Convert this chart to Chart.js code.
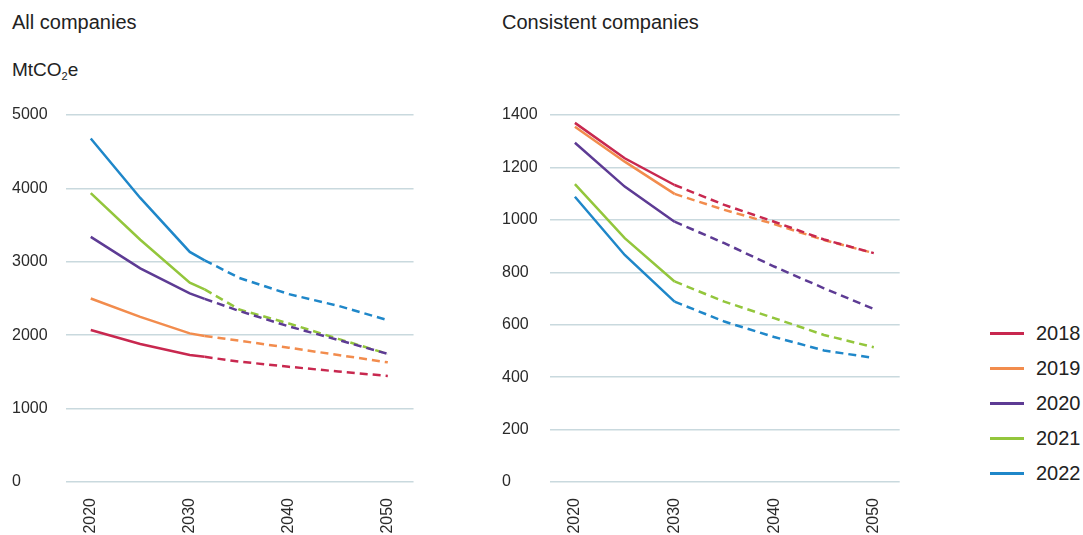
<!DOCTYPE html>
<html>
<head>
<meta charset="utf-8">
<script src="https://cdn.jsdelivr.net/npm/chart.js@4/dist/chart.umd.min.js"></script>
<style>
  html, body { margin: 0; padding: 0; background: #fff; }
  body { width: 1083px; height: 535px; position: relative; overflow: hidden;
         font-family: "Liberation Sans", Arial, sans-serif; color: #222; }
  .title { position: absolute; font-size: 20px; top: 11px; }
  .unit { position: absolute; left: 12px; top: 59px; font-size: 19px; }
  .unit sub { font-size: 11px; vertical-align: -4px; }
  .wrap { position: absolute; }
  #legend { position: absolute; left: 990px; top: 316px; }
  .item { height: 35px; display: flex; align-items: center; font-size: 20px; }
  .swatch { width: 34px; height: 3px; margin-right: 12px; }
</style>
</head>
<body>
<div class="title" style="left:12px">All companies</div>
<div class="unit">MtCO<sub>2</sub>e</div>
<div class="title" style="left:502px">Consistent companies</div>
<div class="wrap" style="left:12px; top:105px; width:411px; height:430px"><canvas id="allChart"></canvas></div>
<div class="wrap" style="left:502px; top:105px; width:407px; height:430px"><canvas id="consChart"></canvas></div>
<div id="legend"></div>
<script>
// Reporting years (one line per year of disclosure)
const seriesNames = ['2018', '2019', '2020', '2021', '2022'];
const seriesColors = ['#c8284f', '#f28c4d', '#5d3b94', '#93c63c', '#1f87c9'];

// Axis ticks
const xTickYears = [2020, 2030, 2040, 2050];
const allYTicks = [0, 1000, 2000, 3000, 4000, 5000];
const consYTicks = [0, 200, 400, 600, 800, 1000, 1200, 1400];

// All companies, MtCO2e (reported up to the first break, projected after it)
const allYears = [2020, 2025, 2030, 2031.5, 2035, 2040, 2045, 2050];
const allSolidEnd = 2031.5;
const all2018 = [2070, 1880, 1730, 1705, 1640, 1570, 1505, 1445];
const all2019 = [2500, 2250, 2025, 1990, 1925, 1830, 1730, 1630];
const all2020 = [3340, 2910, 2570, 2495, 2330, 2120, 1935, 1745];
const all2021 = [3935, 3300, 2715, 2625, 2350, 2160, 1950, 1745];
const all2022 = [4680, 3870, 3135, 3020, 2780, 2560, 2400, 2205];

// Consistent companies, MtCO2e
const consYears = [2020, 2025, 2030, 2035, 2040, 2045, 2050];
const consSolidEnd = 2030;
const cons2018 = [1370, 1235, 1133, 1057, 993, 925, 873];
const cons2019 = [1355, 1222, 1099, 1038, 984, 923, 873];
const cons2020 = [1294, 1127, 993, 911, 822, 739, 660];
const cons2021 = [1136, 930, 765, 688, 625, 561, 514];
const cons2022 = [1088, 866, 688, 612, 553, 502, 473];

const FONT = '"Liberation Sans", Arial, sans-serif';

function buildDatasets(years, rows, solidEnd) {
  return rows.map((vals, i) => ({
    label: seriesNames[i],
    data: vals.map((v, j) => ({ x: years[j], y: v })),
    borderColor: seriesColors[i],
    backgroundColor: seriesColors[i],
    borderWidth: 2.5,
    pointRadius: 0,
    tension: 0,
    fill: false,
    segment: {
      borderDash: ctx => (ctx.p0.parsed.x >= solidEnd ? [8, 5] : undefined)
    }
  }));
}

function makeChart(id, years, rows, solidEnd, yTicks, axisWidth) {
  return new Chart(document.getElementById(id), {
    type: 'line',
    data: { datasets: buildDatasets(years, rows, solidEnd) },
    options: {
      responsive: true,
      maintainAspectRatio: false,
      animation: false,
      layout: { padding: { top: 10, right: 0, bottom: 0, left: 0 } },
      plugins: { legend: { display: false }, tooltip: { enabled: false } },
      scales: {
        x: {
          type: 'linear',
          min: 2017.5,
          max: 2052.6,
          grid: { display: false, drawTicks: false },
          border: { display: false },
          afterBuildTicks: axis => { axis.ticks = xTickYears.map(v => ({ value: v })); },
          afterFit: axis => { axis.height = 53; },
          ticks: {
            minRotation: 90, maxRotation: 90, padding: 16, autoSkip: false,
            color: '#2a2a2a', font: { family: FONT, size: 16 },
            callback: v => String(v)
          }
        },
        y: {
          min: yTicks[0],
          max: yTicks[yTicks.length - 1],
          grid: { color: '#c9d9de', lineWidth: 1.5, drawTicks: false },
          border: { display: false },
          afterBuildTicks: axis => { axis.ticks = yTicks.map(v => ({ value: v })); },
          afterFit: axis => { axis.width = axisWidth; },
          ticks: {
            crossAlign: 'far', padding: 0,
            color: '#2a2a2a', font: { family: FONT, size: 16 },
            callback: v => String(v)
          }
        }
      }
    }
  });
}

makeChart('allChart', allYears, [all2018, all2019, all2020, all2021, all2022], allSolidEnd, allYTicks, 54);
makeChart('consChart', consYears, [cons2018, cons2019, cons2020, cons2021, cons2022], consSolidEnd, consYTicks, 48);

// Legend built from the same series names and colours
const legend = document.getElementById('legend');
seriesNames.forEach((name, i) => {
  const item = document.createElement('div');
  item.className = 'item';
  const sw = document.createElement('span');
  sw.className = 'swatch';
  sw.style.background = seriesColors[i];
  const tx = document.createElement('span');
  tx.textContent = name;
  item.appendChild(sw);
  item.appendChild(tx);
  legend.appendChild(item);
});
</script>
</body>
</html>
